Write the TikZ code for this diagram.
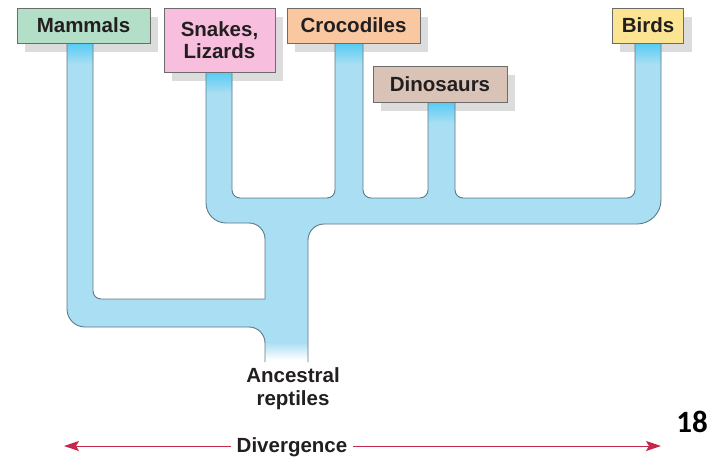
\documentclass[tikz,border=0pt]{standalone}
\usepackage{fontspec}
\setmainfont{Liberation Sans}
\newfontfamily\numfont{Carlito}
\usetikzlibrary{arrows.meta}
\pgfdeclarelayer{back}
\pgfdeclarelayer{mid}
\pgfsetlayers{back,mid,main}
\definecolor{tube}{HTML}{A9DEF3}
\definecolor{tubetop}{HTML}{55CBF4}
\definecolor{tubeline}{HTML}{5E7A86}
\definecolor{boxline}{HTML}{6B6B6B}
\definecolor{shad}{HTML}{DCDCDC}
\definecolor{cmam}{HTML}{B3DEC8}
\definecolor{csnk}{HTML}{F8BEDD}
\definecolor{ccro}{HTML}{FAC8A0}
\definecolor{cdin}{HTML}{D9C3B6}
\definecolor{cbrd}{HTML}{FCE592}
\definecolor{txt}{HTML}{231F20}
\definecolor{divc}{HTML}{C4284A}
\begin{document}
\begin{tikzpicture}[x=1pt,y=-1pt,
  lbl/.style={draw=boxline,line width=0.8pt,inner sep=0pt,text=txt,
    font=\fontsize{20.5}{22.5}\selectfont\bfseries,align=center},
  plain/.style={text=txt,font=\fontsize{20.5}{23}\selectfont\bfseries,align=center},
  tubeedge/.style={draw=tubeline,line width=0.9pt},
  divarrow/.style={draw=divc,line width=1pt,-{Stealth[length=15pt,width=10pt,inset=3pt]}},
]
\begin{pgfonlayer}{back}
\fill[white] (0,0) rectangle (718,459);
\end{pgfonlayer}
\useasboundingbox (0,0) rectangle (718,459);

% boxes
\node[lbl,fill=cmam,minimum width=133pt,minimum height=35pt] (mam) at (83.5,25.5) {Mammals};
\node[lbl,fill=csnk,minimum width=111pt,minimum height=64pt] (snk) at (219.5,40) {Snakes,\\Lizards};
\node[lbl,fill=ccro,minimum width=133pt,minimum height=35pt] (cro) at (353.5,25.5) {Crocodiles};
\node[lbl,fill=cdin,minimum width=134pt,minimum height=36pt] (din) at (440,84) {Dinosaurs};
\node[lbl,fill=cbrd,minimum width=71pt,minimum height=35pt] (brd) at (648,25.5) {Birds};

\begin{pgfonlayer}{mid}
% shadows
\foreach \b in {mam,snk,cro,din,brd}
  \fill[shad] ([shift={(8,9)}]\b.south west) rectangle ([shift={(8,9)}]\b.north east);
% tube body
\fill[tube] (67,30) -- (93,30) -- (93,291) .. controls (93,295.4) and (96.6,299) .. (101,299)
  -- (265,299) -- (265,239) .. controls (265,230.2) and (257.8,223) .. (249,223)
  -- (226,223) .. controls (215,223) and (206,214) .. (206,203) -- (206,60) -- (232,60)
  -- (232,190) .. controls (232,194.4) and (235.6,198) .. (240,198)
  -- (327,198) .. controls (331.4,198) and (335,194.4) .. (335,190)
  -- (335,30) -- (363,30)
  -- (363,190) .. controls (363,194.4) and (366.6,198) .. (371,198)
  -- (420,198) .. controls (424.4,198) and (428,194.4) .. (428,190)
  -- (428,90) -- (455,90)
  -- (455,190) .. controls (455,194.4) and (458.6,198) .. (463,198)
  -- (627,198) .. controls (631.4,198) and (635,194.4) .. (635,190)
  -- (635,30) -- (661,30)
  -- (661,200) .. controls (661,213.2) and (650.2,224) .. (637,224)
  -- (324,224) .. controls (315.2,224) and (308,231.2) .. (308,240)
  -- (308,343) -- (265,343) .. controls (265,334.2) and (257.8,327) .. (249,327)
  -- (85,327) .. controls (75.1,327) and (67,318.9) .. (67,309) -- cycle;
% saturated tops
\shade[top color=tubetop,bottom color=tube] (67,43) rectangle (93,64);
\shade[top color=tubetop,bottom color=tube] (206,72) rectangle (232,93);
\shade[top color=tubetop,bottom color=tube] (335,43) rectangle (363,64);
\shade[top color=tubetop,bottom color=tube] (428,102) rectangle (455,123);
\shade[top color=tubetop,bottom color=tube] (635,43) rectangle (661,64);
% fade at the root
\shade[top color=tube,bottom color=white] (265,342) rectangle (308,360);
% outlines
\draw[tubeedge] (67,43) -- (67,309) .. controls (67,318.9) and (75.1,327) .. (85,327) -- (249,327)
  .. controls (257.8,327) and (265,334.2) .. (265,343) -- (265,362);
\draw[tubeedge] (93,43) -- (93,291) .. controls (93,295.4) and (96.6,299) .. (101,299) -- (265,299);
\draw[tubeedge] (265,299) -- (265,239) .. controls (265,230.2) and (257.8,223) .. (249,223) -- (226,223)
  .. controls (215,223) and (206,214) .. (206,203) -- (206,72);
\draw[tubeedge] (232,72) -- (232,190) .. controls (232,194.4) and (235.6,198) .. (240,198) -- (327,198)
  .. controls (331.4,198) and (335,194.4) .. (335,190) -- (335,43);
\draw[tubeedge] (363,43) -- (363,190) .. controls (363,194.4) and (366.6,198) .. (371,198) -- (420,198)
  .. controls (424.4,198) and (428,194.4) .. (428,190) -- (428,102);
\draw[tubeedge] (455,102) -- (455,190) .. controls (455,194.4) and (458.6,198) .. (463,198) -- (627,198)
  .. controls (631.4,198) and (635,194.4) .. (635,190) -- (635,43);
\draw[tubeedge] (661,43) -- (661,200) .. controls (661,213.2) and (650.2,224) .. (637,224) -- (324,224)
  .. controls (315.2,224) and (308,231.2) .. (308,240) -- (308,362);
\end{pgfonlayer}

% bottom texts
\node[plain] (anc) at (293,389) {Ancestral\\reptiles};
\node[plain,anchor=base,inner sep=6pt] (div) at (292,452) {Divergence};
\coordinate (dl) at (64,446);
\coordinate (dr) at (661,446);
\draw[divarrow] (div.west |- dl) -- (dl);
\draw[divarrow] (div.east |- dr) -- (dr);
\node[text=black,font=\numfont\fontsize{31}{31}\selectfont\bfseries] (pg) at (692,422) {18};
\end{tikzpicture}
\end{document}
